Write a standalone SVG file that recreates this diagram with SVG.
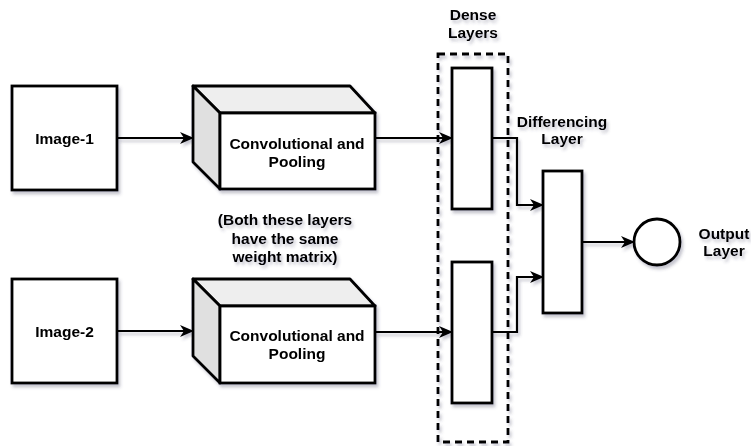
<svg xmlns="http://www.w3.org/2000/svg" width="751" height="446" viewBox="0 0 751 446">
<style>
.box{fill:#ffffff;stroke:#000000;stroke-width:2.8}
.top{fill:#eeeeee;stroke:#000000;stroke-width:2.8;stroke-linejoin:round}
.side{fill:#e0e0e0;stroke:#000000;stroke-width:2.8;stroke-linejoin:round}
.dash{fill:none;stroke:#000000;stroke-width:2.8;stroke-dasharray:7 5}
.edge{fill:none;stroke:#000000;stroke-width:2.2}
text{font-family:"Liberation Sans",Arial,sans-serif;font-weight:bold;font-size:15.5px;fill:#000000;text-anchor:middle}
</style>
<defs>
<filter id="sh" x="-20%" y="-20%" width="150%" height="150%">
<feDropShadow dx="2" dy="3" stdDeviation="1.5" flood-color="#404060" flood-opacity="0.3"/>
</filter>
<marker id="arr" markerWidth="14" markerHeight="12" viewBox="0 0 14 12" refX="13" refY="6" orient="auto" markerUnits="userSpaceOnUse">
<path d="M0,0 L14,6 L0,12 L4,6 Z" fill="#000000"/>
</marker>
</defs>
<g filter="url(#sh)">
<g id="labels">
<text x="473" y="20">Dense</text>
<text x="473" y="38">Layers</text>
<text x="562" y="127">Differencing</text>
<text x="562" y="144">Layer</text>
<text x="724" y="239">Output</text>
<text x="724" y="256">Layer</text>
<text x="285" y="225">(Both these layers</text>
<text x="285" y="244">have the same</text>
<text x="285" y="262">weight matrix)</text>
</g>
<g id="dense-group">
<rect class="dash" x="438" y="54" width="70" height="388"/>
</g>
<g id="connectors">
<path class="edge" d="M117,138 L193,138" marker-end="url(#arr)"/>
<path class="edge" d="M117,331 L193,331" marker-end="url(#arr)"/>
<path class="edge" d="M375,138 L452,138" marker-end="url(#arr)"/>
<path class="edge" d="M375,332 L452,332" marker-end="url(#arr)"/>
<path class="edge" d="M492,138 L517,138 L517,205 L543,205" marker-end="url(#arr)"/>
<path class="edge" d="M492,332 L517,332 L517,277 L543,277" marker-end="url(#arr)"/>
<path class="edge" d="M582,242 L634,242" marker-end="url(#arr)"/>
</g>
<g id="image1">
<rect class="box" x="12" y="86" width="105" height="104"/>
<text x="64.5" y="143.5">Image-1</text>
</g>
<g id="image2">
<rect class="box" x="12" y="279" width="105" height="104"/>
<text x="64.5" y="336.5">Image-2</text>
</g>
<g id="conv1">
<polygon class="top" points="193,86 350,86 375,113 220,113"/>
<polygon class="side" points="193,86 220,113 220,189 193,162"/>
<rect class="box" x="220" y="113" width="155" height="76"/>
<text x="297" y="149">Convolutional and</text>
<text x="297" y="167">Pooling</text>
</g>
<g id="conv2">
<polygon class="top" points="193,279 350,279 375,306 220,306"/>
<polygon class="side" points="193,279 220,306 220,383 193,356"/>
<rect class="box" x="220" y="306" width="155" height="77"/>
<text x="297" y="341">Convolutional and</text>
<text x="297" y="359">Pooling</text>
</g>
<g id="dense1">
<rect class="box" x="452" y="68" width="40" height="141"/>
</g>
<g id="dense2">
<rect class="box" x="452" y="262" width="40" height="141"/>
</g>
<g id="diff">
<rect class="box" x="543" y="171" width="39" height="142"/>
</g>
<g id="output">
<circle class="box" cx="657" cy="242" r="23"/>
</g>
</g>
</svg>
